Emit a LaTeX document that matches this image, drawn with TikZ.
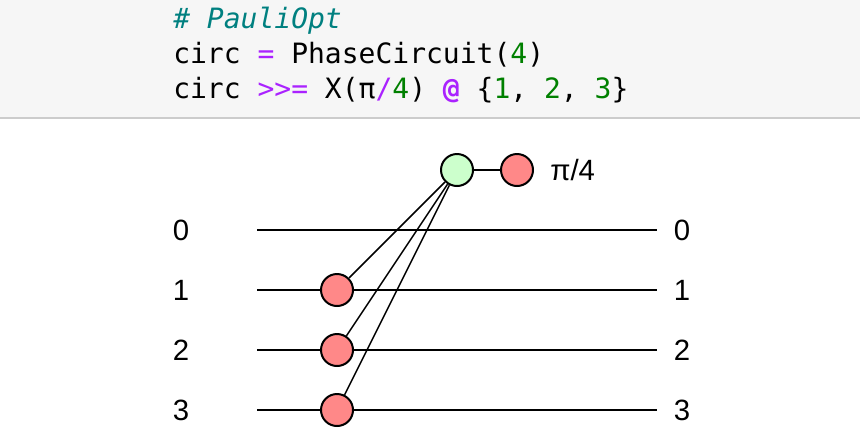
\documentclass[tikz,border=0pt]{standalone}
\usepackage{fontspec}
\setmainfont{Liberation Sans}
\setmonofont{DejaVu Sans Mono}
\definecolor{codebg}{HTML}{F6F6F6}
\definecolor{codeline}{HTML}{CCCCCC}
\definecolor{cmt}{HTML}{008080}
\definecolor{num}{HTML}{008000}
\definecolor{op}{HTML}{AA22FF}
\definecolor{zred}{HTML}{FF8888}
\definecolor{zgreen}{HTML}{CCFFCC}
\tikzset{
  wire/.style={line width=1.5pt},
  edge/.style={line width=1.1pt},
  spider/.style={circle, draw=black, line width=1.5pt, minimum size=24pt, inner sep=0pt},
  xsp/.style={spider, fill=zred},
  zsp/.style={spider, fill=zgreen},
  lbl/.style={font=\fontsize{22pt}{26pt}\selectfont, inner sep=0pt},
  code/.style={font=\fontsize{21pt}{26pt}\ttfamily, anchor=base west, inner sep=0pt}
}
\begin{document}
\begin{tikzpicture}[x=0.75pt, y=-0.75pt]
\useasboundingbox (0,0) rectangle (860,430);
% code block
\fill[codebg] (0,0) rectangle (860,117);
\draw[codeline, line width=1.5pt] (0,118) -- (860,118);
\node[code] (c1) at (173,28) {\textcolor{cmt}{\itshape \# PauliOpt}};
\node[code] (c2) at (173,63) {circ \textcolor{op}{=} PhaseCircuit(\textcolor{num}{4})};
\node[code] (c3) at (173,98) {circ \textcolor{op}{>>=} X(π\textcolor{op}{/}\textcolor{num}{4}) \textcolor{op}{\bfseries @} \{\textcolor{num}{1}, \textcolor{num}{2}, \textcolor{num}{3}\}};
% wire endpoints
\foreach \i/\y in {0/230,1/290,2/350,3/410}{
  \coordinate (w\i a) at (257,\y);
  \coordinate (w\i b) at (657,\y);
  \node[lbl] (l\i) at (181,\y) {\i};
  \node[lbl] (r\i) at (682,\y) {\i};
  \draw[wire] (w\i a) -- (w\i b);
}
% spiders
\node[zsp] (g) at (457,170) {};
\node[xsp] (p) at (517,170) {};
\node[lbl, anchor=west] (ang) at (550,170) {π/4};
\node[xsp] (x1) at (337,290) {};
\node[xsp] (x2) at (337,350) {};
\node[xsp] (x3) at (337,410) {};
\draw[wire] (g) -- (p);
\draw[edge] (g) -- (x1);
\draw[edge] (g) -- (x2);
\draw[edge] (g) -- (x3);
\end{tikzpicture}
\end{document}
